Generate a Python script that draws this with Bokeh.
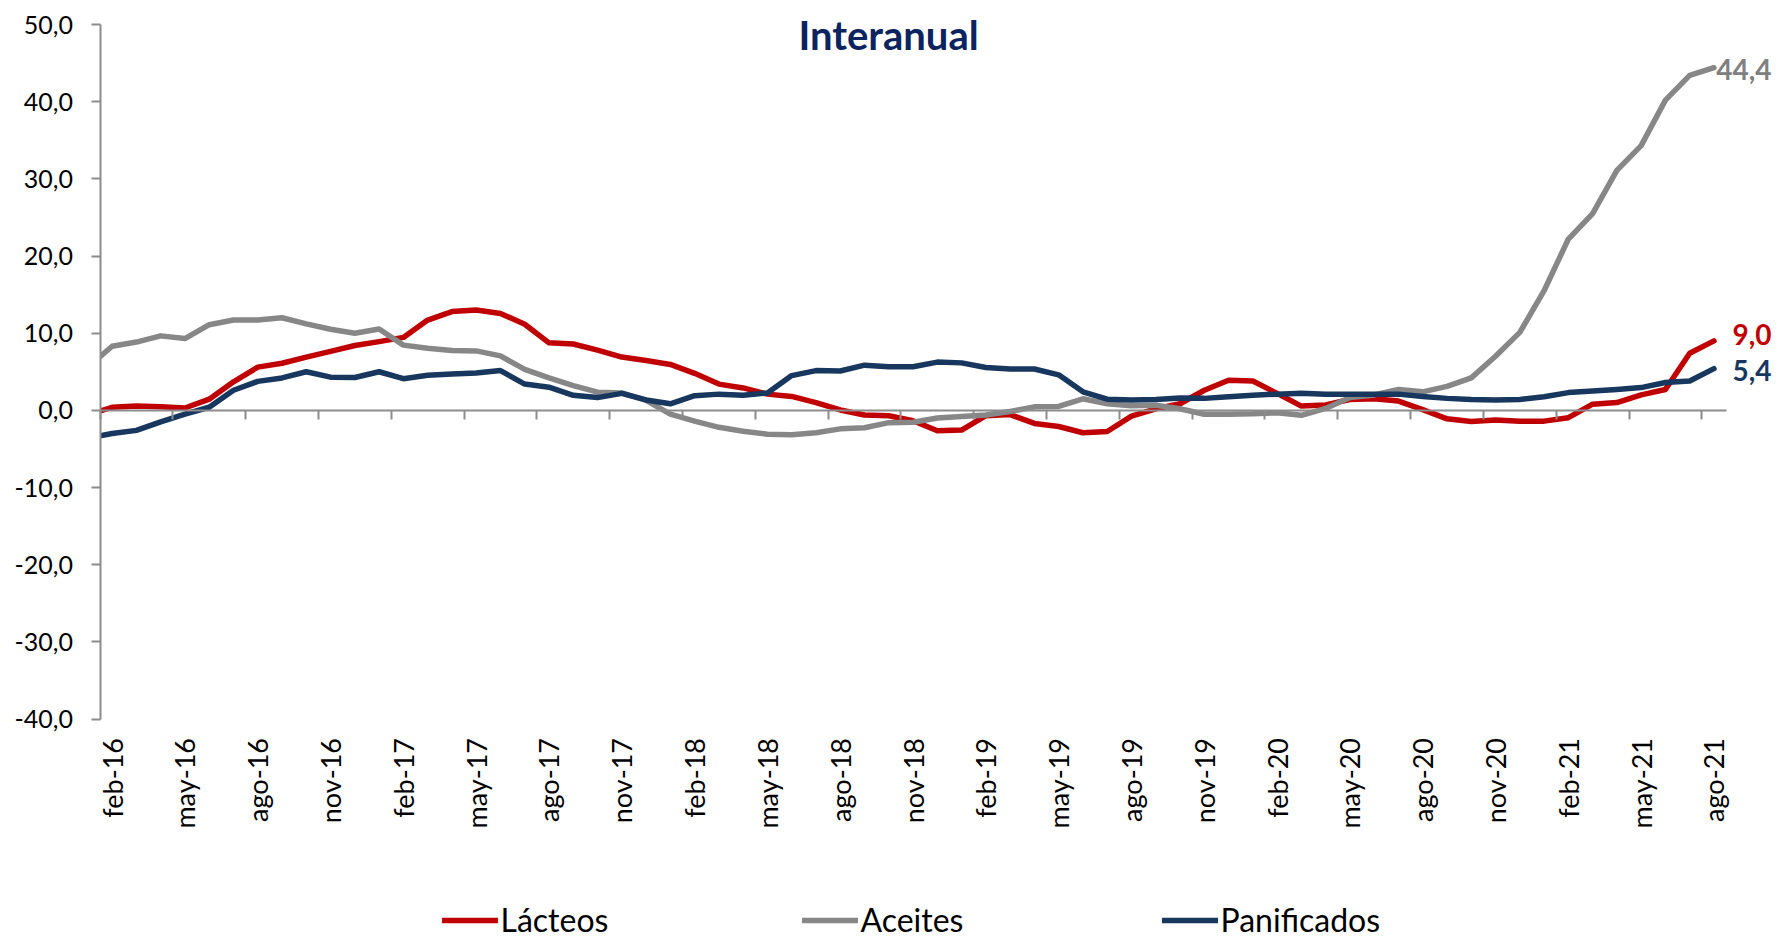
import math
from bokeh.plotting import figure
from bokeh.models import (FixedTicker, LinearAxis, Legend, LegendItem, Label,
                          Range1d, BoxAnnotation)
from bokeh.embed import file_html
from bokeh.resources import INLINE

# ---------------- data ----------------
categories = [
    "ene-16", "feb-16", "mar-16", "abr-16", "may-16", "jun-16", "jul-16", "ago-16", "sep-16", "oct-16", "nov-16", "dic-16",
    "ene-17", "feb-17", "mar-17", "abr-17", "may-17", "jun-17", "jul-17", "ago-17", "sep-17", "oct-17", "nov-17", "dic-17",
    "ene-18", "feb-18", "mar-18", "abr-18", "may-18", "jun-18", "jul-18", "ago-18", "sep-18", "oct-18", "nov-18", "dic-18",
    "ene-19", "feb-19", "mar-19", "abr-19", "may-19", "jun-19", "jul-19", "ago-19", "sep-19", "oct-19", "nov-19", "dic-19",
    "ene-20", "feb-20", "mar-20", "abr-20", "may-20", "jun-20", "jul-20", "ago-20", "sep-20", "oct-20", "nov-20", "dic-20",
    "ene-21", "feb-21", "mar-21", "abr-21", "may-21", "jun-21", "jul-21", "ago-21",
]

lacteos = [
    -0.6, 0.4, 0.55, 0.45, 0.3, 1.45, 3.7, 5.6, 6.1, 6.9, 7.65, 8.4,
    8.9, 9.45, 11.7, 12.8, 13.0, 12.55, 11.15, 8.75, 8.6, 7.8, 6.9, 6.45,
    5.95, 4.8, 3.4, 2.9, 2.1, 1.8, 1.0, 0.05, -0.6, -0.7, -1.35, -2.65,
    -2.55, -0.7, -0.55, -1.7, -2.1, -2.9, -2.75, -0.75, 0.2, 0.85, 2.6, 3.9,
    3.8, 2.2, 0.55, 0.7, 1.4, 1.5, 1.2, 0.1, -1.1, -1.45, -1.25, -1.4,
    -1.4, -0.95, 0.8, 1.0, 2.0, 2.7, 7.4, 9.0,
]

aceites = [
    5.6, 8.3, 8.85, 9.65, 9.3, 11.1, 11.7, 11.7, 12.0, 11.2, 10.5, 10.0,
    10.55, 8.45, 8.05, 7.75, 7.7, 7.05, 5.3, 4.2, 3.2, 2.35, 2.25, 1.3,
    -0.5, -1.4, -2.2, -2.7, -3.1, -3.15, -2.9, -2.4, -2.25, -1.6, -1.55, -1.0,
    -0.8, -0.6, -0.15, 0.45, 0.5, 1.5, 0.85, 0.6, 0.65, 0.2, -0.5, -0.5,
    -0.45, -0.3, -0.65, 0.25, 1.65, 2.0, 2.7, 2.4, 3.1, 4.2, 7.0, 10.1,
    15.5, 22.2, 25.5, 31.1, 34.3, 40.2, 43.4, 44.4,
]

panificados = [
    -3.6, -3.0, -2.6, -1.5, -0.5, 0.4, 2.6, 3.75, 4.2, 5.0, 4.3, 4.25,
    5.0, 4.1, 4.55, 4.7, 4.85, 5.15, 3.4, 3.0, 1.95, 1.65, 2.2, 1.35,
    0.85, 1.9, 2.1, 1.95, 2.25, 4.5, 5.15, 5.1, 5.85, 5.65, 5.65, 6.25,
    6.15, 5.55, 5.35, 5.35, 4.6, 2.4, 1.45, 1.35, 1.4, 1.6, 1.55, 1.75,
    1.95, 2.1, 2.2, 2.1, 2.1, 2.1, 2.1, 1.8, 1.55, 1.4, 1.35, 1.4,
    1.75, 2.3, 2.5, 2.7, 2.95, 3.6, 3.8, 5.4,
]

series_names = ["Lácteos", "Aceites", "Panificados"]
series_colors = ["#C00000", "#878787", "#17375E"]
label_colors = ["#C00000", "#808080", "#17375E"]

y_ticks = [-40, -30, -20, -10, 0, 10, 20, 30, 40, 50]
y_tick_labels = ["-40,0", "-30,0", "-20,0", "-10,0", "0,0", "10,0", "20,0", "30,0", "40,0", "50,0"]

title_text = "Interanual"

# ---------------- layout constants (canvas pixels) ----------------
W, H = 1777, 940
PX_LEFT, PX_RIGHT = 99.5, 1725.6     # category axis extent
PX_TOP, PX_BOTTOM = 24.0, 718.5      # value axis extent (50 .. -40)
FONT = "Lato"
AXIS_GREY = "#8C8C8C"

x = list(range(len(categories)))
label_idx = list(range(1, len(categories), 3))        # feb-16, may-16, ... ago-21
tick_bounds = [i - 0.5 for i in label_idx]            # ticks between categories

cx0, cx1 = 0.5, len(categories) - 0.5
vy0, vy1 = y_ticks[0], y_ticks[-1]
sx = (PX_RIGHT - PX_LEFT) / (cx1 - cx0)
sy = (PX_BOTTOM - PX_TOP) / (vy1 - vy0)
x_range = Range1d(cx0 - PX_LEFT / sx, cx0 + (W - PX_LEFT) / sx)
y_range = Range1d(vy1 - (H - PX_TOP) / sy, vy1 + PX_TOP / sy)

p = figure(width=W, height=H, x_range=x_range, y_range=y_range,
           x_axis_type=None, y_axis_type=None,
           output_backend="svg", toolbar_location=None, title=None,
           min_border_left=0, min_border_right=0,
           min_border_top=0, min_border_bottom=0)
p.outline_line_color = None
p.background_fill_color = "white"
p.border_fill_color = "white"

# lines
renderers = []
for vals, color in zip([lacteos, aceites, panificados], series_colors):
    r = p.line(x, vals, line_color=color, line_width=5.5,
               line_join="round", line_cap="round")
    renderers.append(r)

# plot-area clip on the left of the value axis (lines enter from the axis)
mask = BoxAnnotation(right=cx0, fill_color="white", fill_alpha=1.0,
                     line_color=None, level="glyph")
p.renderers.append(mask)

# value axis: line (bounded) + ticks/labels
yline = LinearAxis(fixed_location=cx0, bounds=(vy0, vy1),
                   ticker=FixedTicker(ticks=[]),
                   axis_line_color=AXIS_GREY, axis_line_width=2,
                   major_tick_line_color=None, minor_tick_line_color=None,
                   major_label_text_color=None,
                   major_label_text_font_size="1px")
p.add_layout(yline, "left")

yax = LinearAxis(fixed_location=cx0,
                 ticker=FixedTicker(ticks=y_ticks),
                 major_label_overrides={t: l for t, l in zip(y_ticks, y_tick_labels)},
                 axis_line_color=None,
                 major_tick_line_color=AXIS_GREY, major_tick_line_width=2,
                 major_tick_out=9, major_tick_in=0,
                 minor_tick_line_color=None,
                 major_label_standoff=18,
                 major_label_text_font=FONT,
                 major_label_text_font_size="25px",
                 major_label_text_color="black")
p.add_layout(yax, "left")

# category axis line crossing at zero, with ticks
zero_axis = LinearAxis(fixed_location=0, bounds=(cx0, cx1),
                       ticker=FixedTicker(ticks=tick_bounds),
                       axis_line_color=AXIS_GREY, axis_line_width=2,
                       major_tick_line_color=AXIS_GREY, major_tick_line_width=2,
                       major_tick_out=9, major_tick_in=0,
                       minor_tick_line_color=None,
                       major_label_text_color=None,
                       major_label_text_font_size="1px")
p.add_layout(zero_axis, "below")

# category labels at the bottom of the plot area
lab_axis = LinearAxis(fixed_location=vy0,
                      ticker=FixedTicker(ticks=label_idx),
                      major_label_overrides={i: categories[i] for i in label_idx},
                      axis_line_color=None, major_tick_line_color=None,
                      minor_tick_line_color=None,
                      major_tick_out=0, major_tick_in=0,
                      major_label_orientation=math.pi / 2,
                      major_label_standoff=19,
                      major_label_text_font=FONT,
                      major_label_text_font_size="27px",
                      major_label_text_color="black")
p.add_layout(lab_axis, "below")

# end-value labels
last_vals = [lacteos[-1], aceites[-1], panificados[-1]]
label_dy = [6.7, -1.6, -2.3]
end_x_px = PX_LEFT + (x[-1] - cx0) * sx
for v, c, dy in zip(last_vals, label_colors, label_dy):
    p.add_layout(Label(x=x[-1], y=v, text=f"{v:.1f}".replace(".", ","),
                       x_offset=1771 - end_x_px, y_offset=dy,
                       text_align="right", text_baseline="middle",
                       text_font=FONT, text_font_style="bold",
                       text_font_size="28px", text_color=c))

# title (second line)
p.add_layout(Label(x=888, y=H - 34, x_units="screen", y_units="screen",
                   text=title_text, text_align="center",
                   text_baseline="alphabetic",
                   text_font=FONT, text_font_style="bold",
                   text_font_size="40px", text_color="#0B2460"))

# legend
legend = Legend(items=[LegendItem(label=n, renderers=[r])
                       for n, r in zip(series_names, renderers)],
                location=(441.5, H - 939), orientation="horizontal",
                glyph_width=56, glyph_height=38,
                label_width=301, label_height=38, label_standoff=3,
                spacing=0, padding=0, margin=0,
                border_line_color=None, background_fill_alpha=0,
                label_text_font=FONT, label_text_font_size="32px",
                label_text_color="black")
p.add_layout(legend)

open("out.html", "w").write(file_html(p, INLINE))
